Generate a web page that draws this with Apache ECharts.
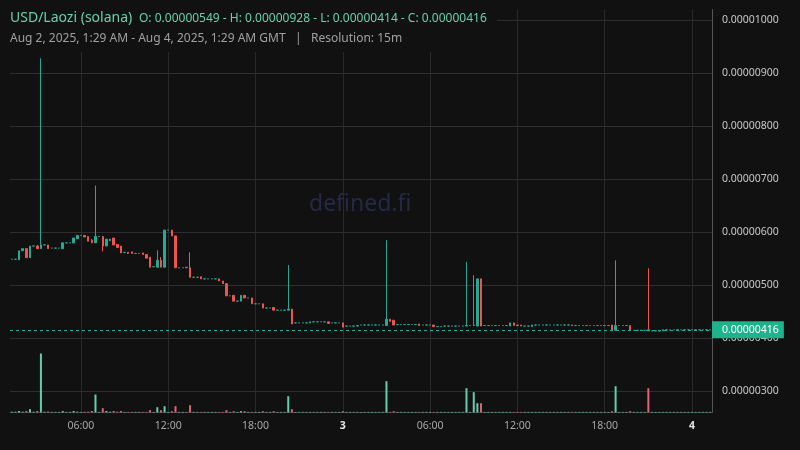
<!DOCTYPE html>
<html>
<head>
<meta charset="utf-8">
<style>
  html, body { margin: 0; padding: 0; background: #111111; }
  #main { width: 800px; height: 450px; }
</style>
<script src="https://cdn.jsdelivr.net/npm/echarts@6/dist/echarts.min.js"></script>
</head>
<body>
<div id="main"></div>
<script>
// prices are in units of 0.00000001 USD, one candle per 15 minutes from Aug 2 01:15 GMT
var opens = [
  549,549,548,565,569,552,574,574,569,576,
  576,570,570,570,569,580,580,580,588,594,
  594,592,585,580,592,592,574,584,589,577,
  574,562,562,563,560,560,561,558,553,535,
  534,547,534,604,604,593,533,533,534,533,
  515,515,516,512,512,512,512,512,508,503,
  480,481,470,470,481,476,476,465,465,465,
  457,457,458,453,453,453,453,455,429,429,
  429,429,429,431,431,431,431,431,429,429,
  429,429,423,423,423,423,425,425,425,425,
  425,425,425,424,436,434,426,426,426,426,
  426,426,427,425,425,425,425,422,422,423,
  423,423,423,423,423,423,424,424,423,512,
  424,424,424,424,424,424,424,423,429,425,
  425,423,423,422,425,425,425,425,425,425,
  425,425,425,425,425,424,424,424,424,424,
  424,424,424,424,424,425,415,424,424,424,
  424,415,415,415,415,416,414,414,414,414,
  416,416,416,416,416,416,416,416,416,416,
  416,416,416
];
var closes = [
  549,549,565,569,552,574,574,569,576,576,
  569,570,570,570,580,580,580,589,594,594,
  591,583,580,592,592,574,587,587,576,571,
  561,562,560,560,560,560,558,551,534,535,
  547,534,604,604,593,533,533,533,533,515,
  515,515,512,512,512,512,512,508,503,480,
  480,470,470,481,476,476,465,465,465,457,
  457,457,453,453,453,453,455,427,429,429,
  429,429,431,431,431,431,431,428,429,429,
  429,421,423,423,423,424,425,425,425,425,
  425,425,425,436,432,425,426,426,426,426,
  426,426,424,425,425,425,422,422,422,423,
  423,423,423,423,423,424,424,425,512,423,
  424,424,424,424,424,424,424,429,424,424,
  423,423,423,425,425,425,425,425,425,425,
  425,425,425,425,424,424,424,424,424,424,
  424,424,424,424,424,414,424,424,424,424,
  415,415,415,415,415,414,414,414,414,416,
  416,416,416,416,416,416,416,416,416,416,
  416,416,416
];
var lows = [
  549,549,548,565,552,552,574,569,569,576,
  569,570,570,570,569,580,580,580,588,594,
  591,583,580,580,592,564,574,584,576,571,
  561,562,559,560,560,560,558,551,534,535,
  534,534,534,604,593,533,533,533,533,515,
  515,515,512,512,512,512,512,508,503,480,
  480,470,470,470,476,476,465,465,465,457,
  457,457,453,453,453,453,453,427,429,429,
  429,429,429,431,431,431,431,428,429,429,
  429,421,423,423,423,423,425,425,425,425,
  425,425,425,424,432,425,426,426,426,426,
  426,426,424,425,425,425,422,422,422,423,
  423,423,423,423,423,423,424,424,423,423,
  424,424,424,424,424,424,424,423,424,424,
  423,423,423,422,425,425,425,425,425,425,
  425,425,425,425,424,424,424,424,424,424,
  424,424,424,424,424,414,415,424,424,424,
  415,415,415,415,415,414,414,414,414,414,
  416,416,416,416,416,416,416,416,416,416,
  416,416,416
];
var highs = [
  549,549,565,569,569,574,574,576,928,576,
  576,570,570,570,580,580,580,589,594,594,
  594,592,587,688,592,592,587,587,589,577,
  574,562,562,563,560,560,561,558,553,535,
  566,553,604,604,604,593,533,533,534,562,
  515,515,516,512,512,512,512,512,508,503,
  480,481,470,481,481,476,476,465,465,465,
  457,457,458,453,453,453,538,455,429,429,
  429,429,431,431,431,431,431,431,429,429,
  429,429,423,423,423,424,425,425,425,425,
  425,425,425,585,436,434,426,426,426,426,
  426,426,427,425,425,425,425,422,422,423,
  423,423,423,423,423,544,424,519,512,512,
  424,424,424,424,424,424,424,429,429,425,
  425,423,423,425,425,425,425,425,425,425,
  425,425,425,425,425,424,424,424,424,424,
  424,424,424,424,424,425,547,424,424,424,
  424,415,415,415,415,532,414,414,414,416,
  416,416,416,416,416,416,416,416,416,416,
  416,416,416
];
// volume, relative units
var volumes = [
  0.8,0.8,1.5,0.8,1.5,3.3,0.8,1.5,59,0.8,
  1,0.6,0.6,0.6,1.5,0.6,0.6,1.5,0.8,0.6,
  0.8,0.8,1.5,18,0.6,4.3,1.5,0.8,1.5,0.8,
  1.5,0.6,0.6,0.6,0.6,0.6,0.6,0.6,2.3,0.6,
  5.3,2.3,6.3,0.6,1.3,6.3,0.6,0.6,0.6,7.3,
  0.6,0.6,0.6,0.6,0.6,0.6,0.6,0.6,0.6,2.3,
  0.6,1.3,0.6,1.3,1.3,0.6,0.6,0.6,0.6,1.3,
  0.6,0.6,1.3,0.6,0.6,0.6,16.3,3.3,0.6,0.6,
  0.6,0.6,0.6,0.6,0.6,0.6,0.6,0.6,0.6,0.6,
  0.6,1.3,0.6,0.6,0.6,0.6,0.6,0.6,0.6,0.6,
  0.6,0.6,0.6,31.3,0.6,1.3,0.6,0.6,0.6,0.6,
  0.6,0.6,0.6,0.6,0.6,0.6,0.6,0.6,0.6,0.6,
  0.6,0.6,0.6,0.6,0.6,24.3,0.6,20.3,9.3,9.3,
  0.6,0.6,0.6,0.6,0.6,0.6,0.6,0.6,0.6,0.6,
  0.6,0.6,0.6,0.6,0.6,0.6,0.6,0.6,0.6,0.6,
  0.6,0.6,0.6,0.6,0.6,0.6,0.6,0.6,0.6,0.6,
  0.6,0.6,0.6,0.6,0.6,1.3,26.3,0.6,0.6,0.6,
  1.3,0.6,0.6,0.6,0.6,24.3,0.6,0.6,0.6,0.6,
  0.6,0.6,0.6,0.6,0.6,0.6,0.6,0.6,0.6,0.6,
  0.6,0.6,0.6
];
var startTime = Date.UTC(2025, 7, 2, 1, 15);
var stepMs = 15 * 60 * 1000;
var priceMin = 260, priceMax = 1020;
var volAxisMax = 403;

var upColor = '#22ab94', downColor = '#ef5350';
var volUp = '#5fd0ae', volDown = '#e4617a';
var font = 'Noto Sans';

function pad(n) { return n < 10 ? '0' + n : '' + n; }
function fmtPrice(v) { return (v / 1e8).toFixed(8); }

var categories = [];
for (var i = 0; i < opens.length; i++) {
  var d = new Date(startTime + i * stepMs);
  categories.push(d.getUTCDate() + ' ' + pad(d.getUTCHours()) + ':' + pad(d.getUTCMinutes()));
}
function isMajor(index, value) {
  var hm = value.split(' ')[1];
  return hm === '00:00' || hm === '06:00' || hm === '12:00' || hm === '18:00';
}

// same up/down rule as the candlestick series (flat -> compare with previous close)
function isUp(i) {
  if (closes[i] > opens[i]) return true;
  if (closes[i] < opens[i]) return false;
  return i === 0 || closes[i - 1] <= closes[i];
}

var candleData = [];
var volData = [];
for (var j = 0; j < opens.length; j++) {
  candleData.push([opens[j], closes[j], lows[j], highs[j]]);
  volData.push({ value: volumes[j], itemStyle: { color: isUp(j) ? volUp : volDown } });
}
var lastClose = closes[closes.length - 1];

var chart = echarts.init(document.getElementById('main'));
var option = {
  backgroundColor: '#111111',
  animation: false,
  textStyle: { fontFamily: font },
  grid: { left: 10, right: 88, top: 9.5, bottom: 37.5, outerBoundsMode: 'none' },
  xAxis: {
    type: 'category',
    data: categories,
    boundaryGap: true,
    axisLine: { show: true, lineStyle: { color: '#444444' } },
    axisTick: { show: false },
    axisLabel: {
      interval: isMajor,
      color: '#a8a8a8',
      fontSize: 10.5,
      fontFamily: font,
      margin: 8,
      formatter: function (value) {
        var parts = value.split(' ');
        if (parts[1] === '00:00') return '{day|' + parts[0] + '}';
        return parts[1];
      },
      rich: { day: { color: '#e6e6e6', fontWeight: 'bold', fontSize: 10.5, fontFamily: font } }
    },
    splitLine: { show: true, interval: isMajor, alignWithLabel: true, lineStyle: { color: '#2a2a2a', width: 1 } }
  },
  yAxis: [
    {
      type: 'value',
      position: 'right',
      min: priceMin,
      max: priceMax,
      splitNumber: 8,
      scale: true,
      axisLine: { show: true, lineStyle: { color: '#555555' } },
      axisTick: { show: false },
      axisLabel: {
        color: '#c8c8c8', fontSize: 10.5, fontFamily: font, margin: 10,
        showMinLabel: false, showMaxLabel: false,
        formatter: fmtPrice
      },
      splitLine: { show: true, showMaxLine: false, lineStyle: { color: '#2e2e2e', width: 1 } }
    },
    { type: 'value', min: 0, max: volAxisMax, show: false, splitLine: { show: false } }
  ],
  series: [
    {
      name: 'Volume',
      type: 'bar',
      xAxisIndex: 0,
      yAxisIndex: 1,
      data: volData,
      barWidth: 2,
      z: 1
    },
    {
      name: 'USD/Laozi',
      type: 'candlestick',
      data: candleData,
      barWidth: 2,
      z: 3,
      itemStyle: {
        color: upColor, color0: downColor,
        borderColor: upColor, borderColor0: downColor,
        borderWidth: 1
      },
      markLine: {
        symbol: 'none',
        silent: true,
        data: [{ yAxis: lastClose }],
        lineStyle: { color: upColor, type: [3, 3], width: 1 },
        label: {
          position: 'end',
          distance: 0,
          formatter: function () { return fmtPrice(lastClose); },
          backgroundColor: '#1db38c',
          color: '#ffffff',
          fontSize: 10.5,
          fontFamily: font,
          padding: [3, 5, 3, 10]
        }
      }
    }
  ],
  graphic: [
    { type: 'rect', z: 50, shape: { x: 0, y: 0, width: 497, height: 52 }, style: { fill: '#111111' } },
    {
      type: 'text', z: 51, left: 10, top: 11,
      style: { text: 'USD/Laozi (solana)', fill: '#63d2ae', font: '14px "Noto Sans"' }
    },
    {
      type: 'text', z: 51, left: 139, top: 13,
      style: { text: 'O: 0.00000549 - H: 0.00000928 - L: 0.00000414 - C: 0.00000416', fill: '#63d2ae', font: '12px "Noto Sans"' }
    },
    {
      type: 'text', z: 51, left: 10, top: 33,
      style: { text: 'Aug 2, 2025, 1:29 AM - Aug 4, 2025, 1:29 AM GMT   |   Resolution: 15m', fill: '#a0a0a0', font: '12px "Noto Sans"' }
    },
    {
      type: 'text', z: 0, left: 309, top: 193,
      style: { text: 'defined.fi', fill: '#252946', font: '23px "Noto Sans"' }
    }
  ]
};
chart.setOption(option);
</script>
</body>
</html>
